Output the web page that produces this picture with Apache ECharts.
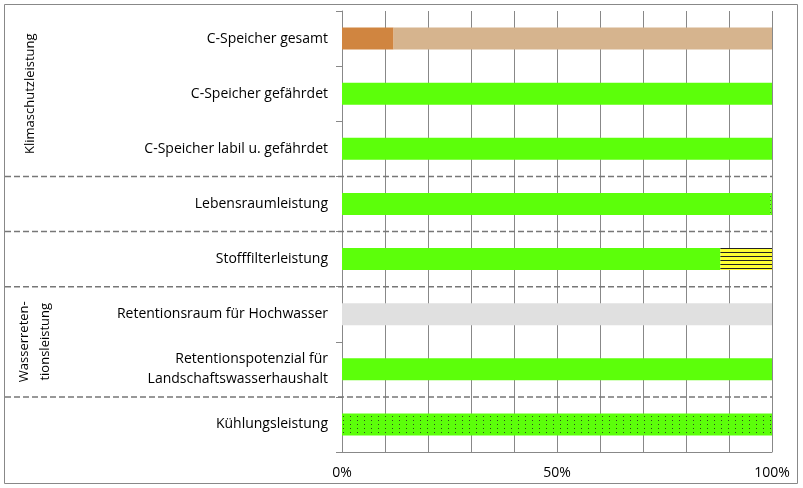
<!DOCTYPE html>
<html><head><meta charset="utf-8">
<script src="https://cdn.jsdelivr.net/npm/echarts@6/dist/echarts.min.js"></script>
<style>html,body{margin:0;padding:0;background:#fff}#chart{width:803px;height:488px}</style>
</head><body><div id="chart"></div>
<script>
var categories = ['C-Speicher gesamt', 'C-Speicher gefährdet', 'C-Speicher labil u. gefährdet',
    'Lebensraumleistung', 'Stofffilterleistung', 'Retentionsraum für Hochwasser',
    'Retentionspotenzial für\nLandschaftswasserhaushalt', 'Kühlungsleistung'];
var mainValues = [12, 100, 100, 99.6, 88, 100, 100, 100];
var restValues = [88, 0, 0, 0.4, 12, 0, 0, 0];
var mainColors = ['#d08540', '#5cff0a', '#5cff0a', '#5cff0a', '#5cff0a', '#e0e0e0', '#5cff0a', '#5cff0a'];
var restColors = ['#d6b48e', '#fff', '#fff', '#5cff0a', '#ffff33', '#fff', '#fff', '#fff'];
var separatorsAfter = [2, 3, 4, 6];
var xTicks = [0, 50, 100];

var chart = echarts.init(document.getElementById('chart'));
var font = '"Open Sans", sans-serif';

var hatch = {symbol: 'rect', dashArrayX: [1, 0], dashArrayY: [1, 2.5], color: '#222', rotation: 0};
var dots = {symbol: 'rect', symbolSize: 0.8, dashArrayX: [[1, 6], [1, 6]], dashArrayY: [1, 3], color: '#222', rotation: 0};

var mainData = mainValues.map(function (v, i) {
    var it = {value: v, itemStyle: {color: mainColors[i]}};
    if (i === 7) it.itemStyle.decal = dots;
    return it;
});
var restData = restValues.map(function (v, i) {
    var it = {value: v, itemStyle: {color: restColors[i]}};
    if (i === 4) it.itemStyle.decal = hatch;
    if (i === 3) it.itemStyle.decal = dots;
    return it;
});

chart.setOption({
    animation: false,
    aria: {enabled: false, decal: {show: false}},
    grid: {left: 342, right: 31, top: 11, bottom: 36},
    xAxis: {
        type: 'value', min: 0, max: 100, interval: 10,
        axisLine: {show: true, lineStyle: {color: '#888'}},
        axisTick: {show: false},
        splitLine: {show: true, lineStyle: {color: '#888', width: 1}},
        axisLabel: {
            color: '#000', fontFamily: font, fontSize: 14, margin: 14,
            formatter: function (v) { return xTicks.indexOf(v) >= 0 ? v + '%' : ''; }
        }
    },
    yAxis: {
        type: 'category', data: categories, inverse: true,
        axisLine: {show: true, lineStyle: {color: '#888'}},
        axisTick: {show: true, length: 6, lineStyle: {color: '#888'}},
        axisLabel: {color: '#000', fontFamily: font, fontSize: 14, margin: 14, lineHeight: 20, align: 'right'}
    },
    series: [
        {type: 'bar', stack: 'a', data: mainData, barWidth: 22},
        {type: 'bar', stack: 'a', data: restData, barWidth: 22}
    ]
});

var graphics = [{
    type: 'rect', shape: {x: 4.5, y: 4.5, width: 793, height: 479},
    style: {fill: null, stroke: '#888', lineWidth: 1}, silent: true
}];
separatorsAfter.forEach(function (i) {
    var y = (chart.convertToPixel({yAxisIndex: 0}, categories[i]) + chart.convertToPixel({yAxisIndex: 0}, categories[i + 1])) / 2;
    graphics.push({
        type: 'line', shape: {x1: 5, y1: y, x2: 772, y2: y},
        style: {stroke: '#777', lineWidth: 1.5, lineDash: [6, 3]}, z: 10
    });
});
var yK = chart.convertToPixel({yAxisIndex: 0}, categories[1]);
var yW = (chart.convertToPixel({yAxisIndex: 0}, categories[5]) + chart.convertToPixel({yAxisIndex: 0}, categories[6])) / 2;
graphics.push({
    type: 'text', x: 30, y: yK, rotation: Math.PI / 2,
    style: {text: 'Klimaschutzleistung', font: '13px ' + font, fill: '#000', align: 'center', verticalAlign: 'middle'}
});
graphics.push({
    type: 'text', x: 35, y: yW, rotation: Math.PI / 2,
    style: {text: 'Wasserreten-\ntionsleistung', font: '13px ' + font, fill: '#000', align: 'center', verticalAlign: 'middle', lineHeight: 21}
});
chart.setOption({graphic: graphics});
</script>
</body></html>
